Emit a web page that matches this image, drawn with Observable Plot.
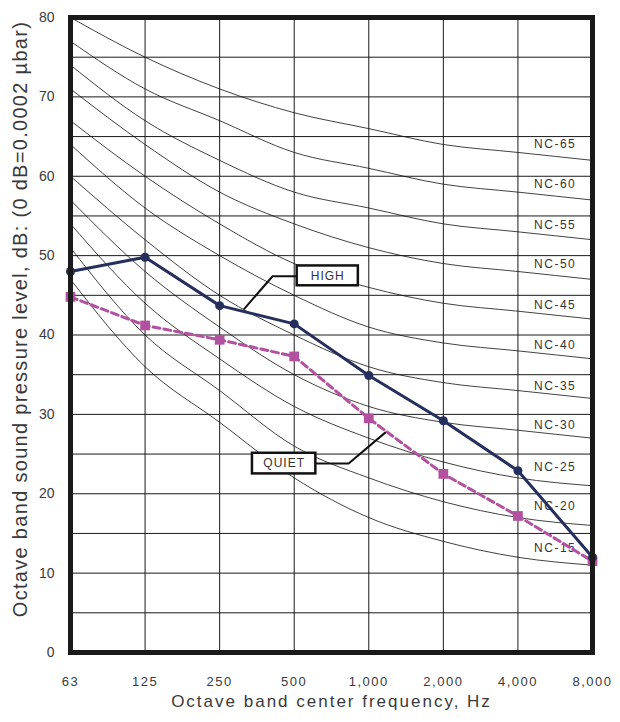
<!DOCTYPE html>
<html>
<head>
<meta charset="utf-8">
<script src="https://cdn.jsdelivr.net/npm/d3@7"></script>
<script src="https://cdn.jsdelivr.net/npm/@observablehq/plot@0.6"></script>
<style>
  html, body { margin: 0; padding: 0; background: #fff; }
  #chart svg { display: block; }
</style>
</head>
<body>
<div id="chart"></div>
<script>
// ---- data ----
const freqLabels = ["63", "125", "250", "500", "1,000", "2,000", "4,000", "8,000"];
const highValues  = [48.0, 49.8, 43.7, 41.4, 34.9, 29.2, 22.9, 12.0];
const quietValues = [44.8, 41.2, 39.4, 37.3, 29.5, 22.5, 17.2, 11.5];

const ncNames = ["NC-15", "NC-20", "NC-25", "NC-30", "NC-35", "NC-40", "NC-45", "NC-50", "NC-55", "NC-60", "NC-65"];
const nc15 = [47, 36, 29, 22, 17, 14, 12, 11];
const nc20 = [51, 40, 33, 26, 22, 19, 17, 16];
const nc25 = [54, 44, 37, 31, 27, 24, 22, 21];
const nc30 = [57, 48, 41, 35, 31, 29, 28, 27];
const nc35 = [60, 52, 45, 40, 36, 34, 33, 32];
const nc40 = [64, 56, 50, 45, 41, 39, 38, 37];
const nc45 = [67, 60, 54, 49, 46, 44, 43, 42];
const nc50 = [71, 64, 58, 54, 51, 49, 48, 47];
const nc55 = [74, 67, 62, 58, 56, 54, 53, 52];
const nc60 = [77, 71, 67, 63, 61, 59, 58, 57];
const nc65 = [80, 75, 71, 68, 66, 64, 63, 62];
const ncLabelY = [13.2, 18.4, 23.4, 28.6, 33.6, 38.7, 43.7, 48.9, 53.9, 59.0, 64.1];
const ncLabelX = 6.5;

const yTickValues = [0, 10, 20, 30, 40, 50, 60, 70, 80];
const yGridValues = [0, 5, 10, 15, 20, 25, 30, 35, 40, 45, 50, 55, 60, 65, 70, 75, 80];

const xTitle = "Octave band center frequency, Hz";
const yTitle = "Octave band sound pressure level, dB: (0 dB=0.0002 \u00b5bar)";

// annotation callouts (data coordinates: x = band index, y = dB)
const calloutNames = ["HIGH", "QUIET"];
const calloutBoxX1 = [3.04, 2.44];
const calloutBoxX2 = [3.86, 3.29];
const calloutBoxY1 = [46.2, 22.5];
const calloutBoxY2 = [48.7, 25.1];
const highLeaderX = [3.04, 2.71, 2.33];
const highLeaderY = [47.4, 47.4, 43.3];
const quietLeaderX = [3.29, 3.73, 4.22];
const quietLeaderY = [23.8, 23.8, 27.7];

// ---- build tables ----
const idx = freqLabels.map((_, i) => i);
const ncCurves = [nc15, nc20, nc25, nc30, nc35, nc40, nc45, nc50, nc55, nc60, nc65];
const ncRows = ncCurves.flatMap((vals, k) => vals.map((v, i) => ({name: ncNames[k], x: i, y: v})));
const highRows = highValues.map((v, i) => ({x: i, y: v}));
const quietRows = quietValues.map((v, i) => ({x: i, y: v}));
const ncLabelRows = ncNames.map((n, k) => ({name: n, x: ncLabelX, y: ncLabelY[k]}));
const boxRows = calloutNames.map((n, k) => ({
  name: n, x1: calloutBoxX1[k], x2: calloutBoxX2[k], y1: calloutBoxY1[k], y2: calloutBoxY2[k],
  cx: (calloutBoxX1[k] + calloutBoxX2[k]) / 2, cy: (calloutBoxY1[k] + calloutBoxY2[k]) / 2
}));
const highLeader = highLeaderX.map((x, i) => ({x, y: highLeaderY[i]}));
const quietLeader = quietLeaderX.map((x, i) => ({x, y: quietLeaderY[i]}));

const navy = "#252f5e";
const magenta = "#b3509f";
const ink = "#3a3a3a";

const plot = Plot.plot({
  width: 620,
  height: 722,
  marginLeft: 70,
  marginRight: 28,
  marginTop: 17,
  marginBottom: 70,
  style: {fontFamily: "'Liberation Sans', Arial, sans-serif", background: "#fff", color: ink},
  x: {domain: [0, 7], label: null},
  y: {domain: [0, 80], label: null},
  marks: [
    Plot.gridX(idx, {stroke: "#1a1a1a", strokeOpacity: 1, strokeWidth: 1}),
    Plot.gridY(yGridValues, {stroke: "#1a1a1a", strokeOpacity: 1, strokeWidth: 1}),
    Plot.line(ncRows, {x: "x", y: "y", z: "name", curve: "monotone-x", stroke: "#111", strokeWidth: 0.8}),
    Plot.text(ncLabelRows, {x: "x", y: "y", text: "name", fontSize: 12, fill: "#333", ariaDescription: "nclabels"}),
    Plot.line(highLeader, {x: "x", y: "y", stroke: "#111", strokeWidth: 2}),
    Plot.line(quietLeader, {x: "x", y: "y", stroke: "#111", strokeWidth: 2}),
    Plot.line(quietRows, {x: "x", y: "y", stroke: magenta, strokeWidth: 3, strokeDasharray: "7,4"}),
    Plot.dot(quietRows, {x: "x", y: "y", symbol: "square", r: 5.5, fill: magenta, stroke: "none"}),
    Plot.line(highRows, {x: "x", y: "y", stroke: navy, strokeWidth: 3}),
    Plot.dot(highRows, {x: "x", y: "y", r: 4.5, fill: navy, stroke: "none"}),
    Plot.rect(boxRows, {x1: "x1", x2: "x2", y1: "y1", y2: "y2", fill: "#fff", stroke: "#111", strokeWidth: 2.5}),
    Plot.text(boxRows, {x: "cx", y: "cy", text: "name", fontSize: 12, fill: "#333", ariaDescription: "boxlabels"}),
    Plot.frame({stroke: "#1a1a1a", strokeWidth: 5}),
    Plot.axisX(idx, {tickFormat: (d) => freqLabels[d], tickSize: 0, tickPadding: 24, fontSize: 13, fill: ink, ariaDescription: "xticks"}),
    Plot.axisY(yTickValues, {tickSize: 0, tickPadding: 16, fontSize: 14, fill: ink, ariaDescription: "yticks"}),
    Plot.text([xTitle], {frameAnchor: "bottom", lineAnchor: "middle", textAnchor: "middle", dy: 49, fontSize: 17, fill: ink, ariaDescription: "xtitle"}),
    Plot.text([yTitle], {frameAnchor: "left", textAnchor: "middle", lineAnchor: "middle", rotate: -90, dx: -50, dy: -16, fontSize: 20, fill: ink, ariaDescription: "ytitle"})
  ]
});

document.getElementById("chart").appendChild(plot);
const svg = d3.select(plot);
svg.selectAll('g[aria-description="nclabels"] text').attr("letter-spacing", 1.5);
svg.selectAll('g[aria-description="boxlabels"] text').attr("letter-spacing", 1);
svg.selectAll('g[aria-description="xticks"] text').attr("letter-spacing", 1.5);
svg.selectAll('g[aria-description="xtitle"] text').attr("letter-spacing", 2);
svg.selectAll('g[aria-description="ytitle"] text').attr("letter-spacing", 1.3);
</script>
</body>
</html>
